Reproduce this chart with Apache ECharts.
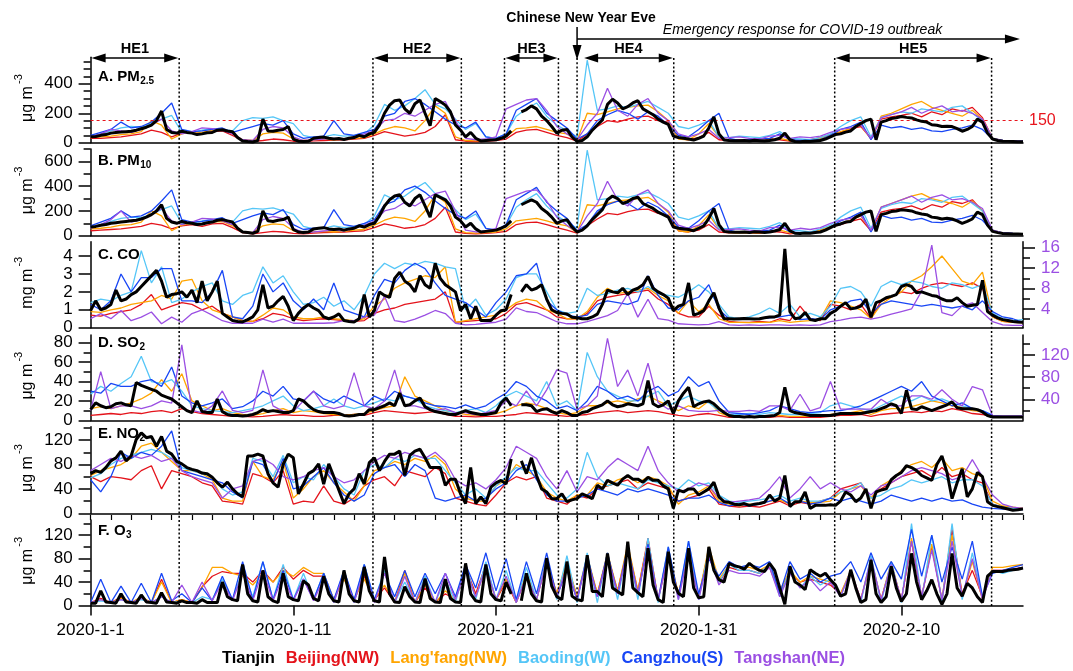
<!DOCTYPE html>
<html><head><meta charset="utf-8">
<script src="https://cdn.jsdelivr.net/npm/echarts@6/dist/echarts.min.js"></script>
<style>html,body{margin:0;padding:0;background:#fff}#c{width:1073px;height:671px}</style>
</head><body><div id="c"></div>
<script>
// ---------------- DATA (Tianjin: 6-hourly; other cities: 12-hourly; x = days since 2020-01-01) ----------------
const cities = ['Tianjin','Beijing(NW)',"Lang'fang(NW)",'Baoding(W)','Cangzhou(S)','Tangshan(NE)'];
const xMajor = [0,10,20,30,40];
const xMinor = [0,1,2,3,4,5,6,7,8,9,10,11,12,13,14,15,16,17,18,19,20,21,22,23,24,25,26,27,28,29,30,31,32,33,34,35,36,37,38,39,40,41,42,43,44,45,46];
const yLabA = [0,200,400], yTickA = [50,100,150,200,250,300,350,400,450,500,550];
const yLabB = [0,200,400,600], yTickB = [100,200,300,400,500,600,700];
const yLabC = [0,1,2,3,4];
const yLabCr = [4,8,12,16], yTickCr = [2,4,6,8,10,12,14,16];
const yLabD = [0,20,40,60,80], yTickD = [10,20,30,40,50,60,70,80];
const yLabDr = [40,80,120], yTickDr = [20,40,60,80,100,120,140];
const yLabE = [0,40,80,120], yTickE = [20,40,60,80,100,120,140];
const yLabF = [0,40,80,120], yTickF = [20,40,60,80,100,120,140];
const eventLines = [4.37,13.93,18.29,20.42,23.08,24.0,28.77,36.71,44.45];
const heSpans = [['HE1',0,4.37],['HE2',13.93,18.29],['HE3',20.42,23.08],['HE4',24.3,28.77],['HE5',36.71,44.45]];
const cnyDay = 24.0, emergencyEnd = 45.85, pm25Limit = 150;

// A. PM2.5
const pm25_TJ = [40,42,50,55,65,70,72,75,78,85,95,105,120,150,215,90,70,65,78,70,
65,55,60,68,70,85,88,80,75,35,12,8,5,15,160,80,78,85,90,110,
25,10,8,10,30,35,38,30,25,28,22,30,35,50,40,60,70,120,200,255,
285,290,230,200,265,290,200,115,300,280,255,210,120,85,40,70,30,12,15,18,
20,30,45,80,null,210,225,250,230,180,150,110,65,85,90,40,8,15,40,85,
120,155,260,295,270,230,245,270,285,230,210,190,160,140,125,45,35,30,25,18,
30,45,100,175,60,18,15,14,14,15,12,16,14,12,15,20,30,65,20,8,
7,10,8,12,15,25,40,55,60,72,80,110,130,150,160,20,140,150,165,170,
178,172,168,155,145,140,122,118,110,112,110,95,78,90,110,160,140,65,25,15,
10,9,8,7,7];
const pm25_BJ = [30,30,35,40,50,60,85,70,40,65, 70,60,75,80,50,15,8,15,25,20, 10,8,12,15,18,20,25,30,50,75, 60,45,55,70,110,190,20,10,8,10, 15,25,70,85,90,70,50,35,10,60, 110,150,140,160,175,180,150,140,30,20, 35,70,20,15,20,15,12,25,20,10, 15,20,35,55,70,95,110,30,160,175, 185,200,175,210,190,230,215,240,170,30, 12,10,8];
const pm25_LF = [35,40,45,55,60,75,150,120,25,60, 75,70,85,90,60,20,15,60,70,65, 25,15,20,25,20,25,30,35,60,90, 110,100,80,150,250,200,40,15,12,15, 20,40,95,100,110,90,70,60,15,200, 190,210,230,240,250,255,210,150,25,20, 60,130,40,15,12,15,14,20,30,15, 12,15,30,55,75,95,120,25,180,200, 230,260,280,240,220,200,180,220,160,30, 15,12,10];
const pm25_BD = [45,60,80,100,110,105,130,160,185,70, 70,85,95,90,80,150,170,165,175,150, 130,50,35,40,55,45,50,60,120,260, 220,250,300,360,260,230,160,90,130,40, 30,60,180,230,270,180,120,80,40,560, 220,230,250,240,260,280,240,200,110,95, 120,150,40,35,45,40,35,50,75,30, 25,20,35,60,110,150,175,40,170,190, 210,200,230,220,210,240,250,200,150,30, 15,12,10];
const pm25_CZ = [50,70,90,140,100,110,140,200,270,90, 75,80,90,100,70,90,110,130,120,150, 60,30,40,45,150,60,50,70,90,180, 200,280,300,260,210,160,120,100,140,40, 30,60,220,260,300,200,150,100,25,60, 150,190,220,200,160,210,180,120,50,40, 90,150,200,30,15,20,25,30,60,20, 15,15,20,50,90,110,140,20,120,100, 110,90,100,80,75,90,100,120,90,25, 15,12,10];
const pm25_TS = [40,60,90,80,70,90,120,160,80,60, 75,100,95,85,60,20,15,90,110,100, 40,15,20,25,30,25,40,60,80,150, 160,200,180,220,260,280,150,30,20,25, 40,230,260,290,300,220,110,60,20,120, 200,370,220,180,260,300,200,150,60,40, 60,90,30,35,40,30,25,45,50,30, 40,35,45,70,90,100,120,30,170,190, 210,240,200,230,250,210,220,200,160,30, 15,12,10];

// B. PM10
const pm10_TJ = [70,75,85,90,100,105,110,115,120,125,135,150,170,200,250,140,110,100,115,105,
100,90,95,105,110,125,130,120,110,60,30,25,20,35,200,120,115,125,130,150,
50,30,25,30,55,60,65,55,50,55,45,55,60,80,70,90,100,160,240,290,
320,330,270,240,300,330,240,150,330,310,290,240,150,120,70,100,55,30,35,40,
45,60,80,120,null,250,270,290,270,220,190,150,100,120,130,70,30,45,80,130,
170,210,290,320,300,260,275,300,310,260,240,220,190,170,150,70,60,55,50,40,
60,80,140,220,90,35,30,28,28,30,25,32,30,26,30,38,50,100,40,20,
18,22,20,25,30,45,65,85,95,110,115,150,170,190,200,35,170,180,195,200,
210,205,200,185,175,170,150,145,135,140,135,120,100,115,135,190,170,85,35,25,
18,16,14,13,12];
const pm10_BJ = [40,45,50,55,65,75,100,85,55,80, 90,75,95,100,65,25,15,25,35,30, 18,15,20,25,28,30,35,40,65,95, 80,60,70,90,140,230,30,18,15,18, 25,35,90,105,110,90,65,45,20,80, 135,180,170,195,210,215,180,165,40,30, 45,90,30,22,28,22,18,35,30,15, 22,28,45,70,90,115,135,40,190,210, 220,240,210,250,230,275,260,290,200,40, 18,15,12];
const pm10_LF = [55,60,70,85,90,110,200,160,40,85, 100,95,110,115,80,30,25,80,95,90, 40,25,30,35,30,35,45,50,85,125, 150,140,115,200,330,270,55,25,20,25, 30,55,120,130,140,120,95,80,25,250, 240,260,280,290,300,310,260,190,40,30, 80,170,55,25,20,25,22,30,45,25, 20,25,45,75,100,125,160,40,230,260, 290,320,340,300,280,260,230,280,200,45, 22,18,15];
const pm10_BD = [70,90,115,140,150,145,175,210,240,100, 100,120,130,125,110,200,220,215,225,200, 175,75,55,60,80,65,75,90,160,330, 290,320,380,430,340,300,210,130,175,60, 45,85,230,290,340,240,160,110,60,690, 290,300,320,310,330,350,310,260,150,130, 160,200,60,55,65,60,55,75,105,45, 40,30,55,85,150,200,230,60,220,250, 270,260,300,290,270,310,320,260,200,45, 22,18,15];
const pm10_CZ = [80,110,140,200,150,160,200,280,370,130, 110,115,130,145,100,130,160,185,170,210, 90,50,60,65,210,90,75,100,130,250, 280,370,400,350,280,220,170,140,200,60, 45,90,290,340,390,270,200,140,40,90, 200,250,280,260,210,270,230,160,70,60, 120,200,260,45,25,30,38,45,85,30, 25,25,30,70,120,150,190,30,165,140, 150,125,140,110,105,125,140,165,125,35, 22,18,15];
const pm10_TS = [60,90,130,200,110,130,170,220,120,90, 110,140,135,120,90,30,25,130,155,140, 60,25,30,38,45,38,60,85,115,200, 220,270,240,290,340,360,200,45,30,38, 60,300,330,360,370,280,150,85,30,160, 260,440,290,240,330,370,260,200,85,60, 85,125,45,50,55,45,38,65,70,45, 60,50,65,100,125,140,165,45,230,260, 290,320,270,310,330,290,300,270,220,45, 22,18,15];

// C. CO (mg m-3; Tangshan on right axis)
const co_TJ = [0.95,1.5,1.0,1.1,1.3,2.1,1.5,1.6,1.85,2.0,2.3,2.6,2.9,3.2,2.6,1.7,1.85,1.9,2.0,1.7,
2.1,1.4,2.6,1.5,2.0,2.6,0.8,0.6,0.4,0.35,0.32,0.45,0.6,1.0,2.4,1.1,1.2,1.5,1.75,1.2,
0.4,0.8,1.1,1.3,1.1,0.95,0.6,0.5,0.6,0.77,0.4,0.35,0.32,0.5,1.85,0.6,0.95,2.0,1.8,1.7,
2.75,3.1,2.6,2.4,2.0,2.9,2.4,2.2,3.6,2.75,2.4,2.2,2.0,0.95,1.3,0.5,1.2,0.4,0.4,0.4,
0.7,0.95,1.0,1.85,null,2.0,2.4,2.1,2.2,2.4,1.6,1.0,0.85,0.8,0.76,0.58,0.55,0.5,0.5,0.6,
0.76,1.3,2.1,2.0,1.95,2.2,1.85,2.1,2.2,2.4,2.85,2.2,2.0,1.85,1.65,0.95,1.2,1.3,2.5,0.7,
0.8,0.95,1.5,1.95,1.1,0.5,0.5,0.48,0.5,0.52,0.5,0.48,0.5,0.55,0.6,0.6,0.7,4.4,0.9,0.5,
0.55,0.85,0.45,0.4,0.5,0.5,0.8,0.95,1.2,1.4,1.05,1.1,1.2,1.6,0.58,1.4,1.5,1.67,1.75,1.85,
2.3,2.4,2.3,1.95,2.0,1.9,1.8,1.75,1.6,1.5,1.5,1.67,1.4,1.2,1.25,1.3,2.65,0.9,0.7,0.55,
0.45,0.4,0.35,0.32,0.3];
const co_BJ = [0.7,0.65,0.8,0.9,1.0,1.3,1.85,1.0,1.2,1.4, 1.3,1.0,1.2,0.8,0.6,0.4,0.35,0.5,0.8,0.7, 0.5,0.4,0.45,0.5,0.45,0.4,0.35,0.4,0.8,1.0, 1.1,1.3,1.4,1.5,1.6,2.0,0.3,0.35,0.4,0.45, 0.5,0.8,1.3,1.4,1.2,1.0,0.6,0.5,0.5,0.8, 1.5,1.7,1.8,1.9,2.0,2.1,1.6,1.3,0.8,0.6, 0.6,1.2,0.7,0.35,0.3,0.3,0.35,0.3,0.5,0.4, 1.2,0.5,0.4,1.3,1.2,1.0,1.3,0.5,1.5,1.7, 2.0,1.9,2.2,2.4,2.5,2.4,2.3,2.5,2.2,0.6, 0.35,0.3,0.28];
const co_LF = [0.9,0.85,1.0,1.1,1.3,1.4,1.5,1.8,1.6,2.6, 2.7,1.5,1.0,0.8,0.6,0.4,0.35,0.7,1.1,1.0, 0.6,0.5,0.5,0.6,0.5,0.45,0.4,0.5,1.2,1.6, 2.2,2.5,2.7,2.9,2.8,3.4,0.3,0.4,0.5,0.6, 0.7,1.0,1.4,1.6,1.5,1.0,0.8,0.5,0.5,0.9, 1.7,2.2,1.9,2.0,2.1,2.2,1.8,1.5,0.8,1.5, 0.9,1.3,0.5,0.3,0.3,0.28,0.3,0.3,0.4,0.3, 0.35,0.4,0.5,1.5,1.4,1.2,1.0,0.5,1.3,1.7, 2.0,2.6,2.9,3.4,4.0,3.3,2.6,2.4,3.1,0.6, 0.35,0.3,0.28];
const co_BD = [1.4,1.6,1.5,1.8,2.0,4.3,2.5,3.4,1.4,1.6, 2.0,2.3,2.5,1.5,1.3,1.8,2.0,3.4,2.5,2.9, 2.0,1.3,1.4,1.7,1.2,1.5,1.0,1.8,3.0,3.6, 3.3,3.6,3.5,3.7,3.6,3.4,3.3,1.0,1.6,0.7, 1.0,1.6,2.8,3.0,3.0,2.0,1.0,0.8,0.9,2.2, 1.8,1.9,2.1,2.2,2.0,2.3,1.9,1.8,1.7,2.0, 2.4,2.0,1.3,0.6,0.5,0.6,0.8,1.1,0.8,1.3, 0.6,0.8,0.6,1.2,2.2,2.3,2.0,1.2,2.3,2.6, 2.4,2.6,2.5,2.3,2.2,2.5,2.4,2.2,2.4,0.8, 0.5,0.4,0.45];
const co_CZ = [1.3,1.0,1.5,3.0,2.0,2.8,2.8,3.3,3.3,1.5, 1.5,1.4,2.0,3.2,0.6,0.5,1.2,3.0,2.0,2.5, 1.5,1.0,1.6,1.0,2.5,1.0,0.8,0.6,1.8,2.7, 2.5,3.2,3.6,3.3,2.5,1.8,1.6,1.4,1.0,0.6, 1.4,2.0,2.9,3.0,3.6,1.5,1.0,0.7,0.6,0.7, 1.3,1.5,1.4,1.3,1.5,2.9,1.8,1.1,1.0,1.5, 1.7,2.4,1.0,0.5,0.45,0.5,0.5,0.55,0.6,0.7, 0.45,0.5,0.45,1.0,1.2,1.5,1.6,0.8,1.3,1.5, 1.4,1.3,1.2,1.3,1.2,1.1,1.2,1.0,1.5,0.9, 0.6,0.5,0.3];
const co_TS = [2.1,3.1,2.1,3.7,1.7,2.4,3.4,1.1,2.4,1.4, 3.1,3.8,2.8,1.7,1.2,1.2,1.2,2.0,1.4,2.0, 1.2,1.2,1.2,1.2,1.3,1.7,1.7,2.4,2.8,6.5, 1.7,1.4,2.0,2.8,3.7,3.1,1.2,0.9,1.0,1.2, 1.4,2.0,4.2,3.5,3.3,2.4,1.5,1.1,1.1,1.5, 2.1,2.7,3.7,7.0,2.4,5.9,2.1,1.8,1.1,1.0, 0.9,1.0,1.5,0.9,0.8,0.9,0.8,0.9,0.9,0.8, 0.9,0.8,0.9,1.5,1.8,2.2,2.4,2.0,2.4,3.0, 3.5,4.0,7.5,16.5,3.3,2.7,4.6,5.2,3.3,1.5, 0.9,0.8,0.8];

// D. SO2 (Tangshan on right axis)
const so2_TJ = [11,18,15,13,14,17,18,16,15,39,36,34,32,30,26,24,22,18,14,10,
8,20,9,8,8,22,9,6,5,5,4.5,5,6,8,11,9,10,9,8,8,
10,22,20,15,11,9,8,8,8,7,5,4.5,5,6,6,11,11,13,15,18,
15,28,15,16,20,23,14,11,9,8,7,6,6,8,10,8,7,6,6,7,
8,18,23,15,null,16,16,15,9,11,12,9,7,10,8,5,5,8,9,12,
14,16,20,16,14,15,17,16,15,17,41,17,14,16,20,7,20,28,34,14,
17,19,20,17,12,8,5,4,4,3.5,4,3.5,4,4,4.5,5,8,34,10,8,
7,6,5,5,5,5,5,6,7,7,7,7,7,8,9,10,12,14,17,15,
7,31,12,11,14,12,10,12,14,16,19,13,12,12,12,11,8.6,5,3.4,3.4,
3.4,3.4,3.4,3.4,3.4];
const so2_BJ = [5,6,7,6,8,7,9,10,8,12, 9,7,6,5,4,4,3.5,4,5,6, 5,5,4,4,5,5,6,5,8,10, 9,8,7,8,9,6,4,4,3.5,4, 4,5,6,8,7,6,5,4,5,6, 8,9,10,8,9,10,9,7,5,4, 6,7,5,3,3,3,3,3,4,3, 3,3,3,4,5,5,6,4,6,7, 8,9,8,10,9,12,10,7,6,3, 3,3,3];
const so2_LF = [12,14,12,15,18,22,28,42,30,48, 20,15,10,12,8,6,5,7,10,12, 8,10,9,7,6,5,6,7,10,13, 15,45,25,20,15,10,8,6,5,6, 7,10,15,18,16,12,8,6,8,15, 15,18,20,18,22,25,20,15,10,15, 12,20,8,4,4,3,4,4,5,4, 4,4,4,6,7,8,10,6,10,12, 12,14,17,20,18,15,13,10,9,3, 3,3,3];
const so2_BD = [27,35,30,38,45,66,40,38,42,30, 15,12,10,9,8,10,12,15,20,25, 15,10,12,15,22,15,12,15,18,22, 20,25,22,15,12,10,8,10,12,8, 15,25,30,25,20,40,15,20,10,70, 45,30,25,20,20,25,30,15,20,25, 20,18,10,6,6,7,6,8,7,6, 6,7,8,15,18,15,12,10,15,20, 25,20,25,20,22,18,15,12,10,5, 4,4,4];
const so2_CZ = [30,28,38,35,35,40,42,35,55,25, 18,15,18,22,12,14,20,30,25,35, 22,20,30,22,18,25,20,15,25,20, 30,25,22,18,15,14,12,16,12,15, 22,28,40,35,25,20,12,15,10,20, 35,30,22,25,20,30,35,25,30,45, 35,40,20,8,7,6,8,10,15,12, 9,8,9,10,10,12,15,20,25,30, 35,30,40,25,20,15,18,12,10,5, 4,4,4];
const so2_TS = [20,90,23,28,28,23,28,37,33,138, 20,16,28,55,20,16,20,93,28,18, 18,37,55,28,23,28,88,28,23,37, 93,28,28,23,20,23,16,16,12,16, 20,37,28,55,28,57,93,87,22,28, 46,150,63,93,46,105,34,22,28,20, 18,18,20,18,18,20,18,28,28,20, 49,19,25,72,22,22,22,22,40,28, 28,46,46,40,57,40,28,63,57,10, 10,10,10];

// E. NO2
const no2_TJ = [65,70,67,75,86,91,102,86,94,121,132,124,126,110,126,102,97,85,81,75,
72,70,66,65,59,50,43,51,40,32,27,94,94,97,94,65,50,43,80,97,
91,32,48,65,70,81,48,81,60,38,16,32,40,65,48,83,91,70,85,97,
97,102,62,95,102,105,91,75,75,75,46,56,56,32,16,75,16,27,16,43,
50,54,48,89,null,86,65,91,62,40,35,24,24,32,19,22,24,32,28,24,
46,40,54,50,46,56,62,56,56,51,59,54,54,45,40,8,38,35,40,40,
30,35,40,51,27,19,18,15,14,16,13,15,16,18,30,20,25,62,11,19,
19,35,8,13,13,13,14,13,20,35,30,19,25,40,8,35,38,40,55,62,
67,78,75,70,62,58,54,80,94,67,24,50,73,27,40,67,60,19,13,11,
9,7,5,6,7];
const no2_BJ = [60,52,60,58,55,70,78,40,70,65, 60,50,45,20,18,15,65,60,50,70, 15,20,18,45,20,15,25,45,55,60, 45,70,65,60,75,65,25,20,15,12, 30,50,60,55,60,25,20,15,30,25, 40,45,50,55,40,50,45,40,20,25, 30,40,15,12,10,12,10,15,20,12, 18,15,20,25,40,45,50,25,40,50, 60,65,70,60,75,60,65,55,50,15, 10,8,7];
const no2_LF = [62,70,75,80,90,110,115,100,85,70, 70,65,55,25,20,20,85,60,55,85, 25,40,60,70,50,35,20,45,70,75, 85,80,90,85,95,80,40,25,20,20, 45,55,80,70,60,35,25,20,30,30, 50,45,55,60,50,60,55,45,15,30, 35,45,20,15,12,15,15,20,22,15, 20,18,18,20,35,40,45,25,45,55, 70,80,85,75,90,70,75,65,60,20, 12,10,8];
const no2_BD = [58,65,80,90,95,100,105,100,90,75, 70,65,60,40,30,35,90,85,60,95, 50,60,55,80,60,40,30,70,80,75, 90,85,95,90,90,70,50,30,40,25, 45,60,75,70,70,50,30,25,40,100, 60,45,50,45,40,55,50,45,40,55, 45,50,30,20,18,20,22,25,30,20, 25,20,20,25,35,40,50,25,30,40, 45,55,50,55,60,50,55,55,45,15, 10,8,7];
const no2_CZ = [55,35,60,100,90,100,95,110,135,70, 65,60,55,50,35,25,85,80,50,90, 40,45,60,75,50,30,20,30,65,75, 80,60,80,70,25,20,25,30,20,25, 40,50,70,80,55,30,20,20,25,30, 40,35,30,40,35,40,35,30,20,25, 25,30,18,12,15,12,15,20,25,15, 20,15,18,25,20,25,20,15,20,30, 25,20,25,20,25,20,22,15,10,8, 7,6,6];
const no2_TS = [70,80,90,85,95,90,95,85,90,70, 60,55,50,25,40,45,85,90,80,60, 55,60,70,75,60,50,55,70,85,95, 90,100,95,90,100,85,55,45,50,40, 55,75,110,100,90,60,40,70,35,60, 55,75,90,80,70,110,70,50,35,40, 50,45,25,18,20,22,25,40,60,25, 40,60,40,50,40,35,45,30,45,50, 60,70,75,70,65,55,60,88,60,30, 15,10,8];

// F. O3
const o3_TJ = [4,4,25,6,5,4,20,6,5,4,18,6,5,4,22,6,5,4,8,5,
5,4,10,5,5,5,40,15,10,8,70,20,8,6,60,15,8,5,55,15,
10,8,42,35,12,8,50,20,8,6,60,20,8,6,66,25,8,6,83,20,
6,5,32,15,6,5,46,12,6,5,45,12,6,5,72,20,8,6,70,20,
10,8,40,20,null,8,55,20,8,6,81,33,15,10,75,16,10,8,86,24,
24,15,89,30,24,18,109,30,22,15,98,35,10,5,92,40,21,15,98,30,
13,15,100,60,44,40,72,68,66,62,72,65,60,58,72,60,30,2,67,40,
35,27,61,55,50,55,44,35,16,20,61,30,5,10,78,20,5,15,67,30,
7,20,89,40,10,25,44,20,2,20,89,30,16,38,30,15,5,50,58,58,
58,60,61,62,64];
const o3_BJ = [5,12,5,14,5,12,5,45,5,10, 5,32,50,58,55,55,40,60,40,65, 45,60,50,50,10,50,10,50,10,30, 5,60,5,30,5,20,10,65,20,70, 10,40,5,50,10,75,20,70,15,80, 20,85,25,100,25,115,10,85,20,90, 15,95,40,65,60,60,55,65,20,55, 40,45,40,35,20,55,10,75,10,70, 10,110,15,100,10,130,20,60,15,60, 60,62,65];
const o3_LF = [5,10,5,12,5,15,5,40,5,10, 5,30,65,65,55,50,35,55,40,60, 50,65,55,55,10,45,10,45,10,35, 5,55,5,35,5,25,10,60,15,65, 10,45,5,55,10,80,20,75,15,85, 20,90,25,105,25,110,10,95,20,95, 15,100,45,70,65,65,60,70,25,60, 40,50,45,40,20,60,10,80,10,75, 8,115,12,105,8,120,15,75,10,65, 65,68,70];
const o3_BD = [5,8,5,10,5,10,5,15,5,8, 5,15,10,45,10,60,15,75,10,70, 10,55,10,55,5,60,5,70,10,60, 5,40,5,50,5,45,5,70,10,75, 10,60,5,65,10,80,10,85,5,90, 5,90,10,100,10,115,5,100,10,110, 10,95,40,70,60,60,55,70,15,60, 30,50,35,45,15,60,5,85,5,75, 5,140,10,120,5,140,10,90,15,60, 55,60,65];
const o3_CZ = [5,45,5,33,5,38,5,55,8,20, 5,30,8,50,10,75,10,75,10,60, 10,45,10,55,10,60,10,70,10,55, 15,60,15,55,20,55,15,70,30,90, 25,80,10,75,20,90,15,60,10,85, 15,90,20,100,20,105,10,100,15,110, 20,80,50,75,65,70,65,75,20,75, 45,55,40,50,55,75,40,90,45,75, 45,130,50,120,40,100,45,110,15,55, 60,65,70];
const o3_TS = [5,10,5,10,5,12,5,15,5,35, 5,40,8,40,8,55,8,60,8,50, 8,45,8,45,5,55,5,60,5,55, 5,50,5,45,5,55,10,60,15,65, 10,50,5,50,10,75,15,65,10,80, 15,85,20,95,20,100,10,85,10,90, 10,85,35,60,55,55,50,65,15,55, 30,45,25,40,15,60,10,80,10,70, 10,110,15,95,10,110,15,80,10,60, 60,62,65];

// ---------------- CHART ----------------
const FONT = '"Liberation Sans", Arial, sans-serif';
const colors = ['#000000','#e4131b','#ffa500','#55c6f7','#1846f5','#9b4fe3'];
const PURPLE = '#9b4fe3';
const GL = 90.6, GR = 1023;
const panels = [
  {top:57.3, bot:142.7, max:580, lab:yLabA, tk:yTickA, unit:'μg m', t1:'A. PM', t2:'2.5', toff:19.3, data:[pm25_TJ,pm25_BJ,pm25_LF,pm25_BD,pm25_CZ,pm25_TS]},
  {top:149, bot:235.7, max:700, lab:yLabB, tk:yTickB, unit:'μg m', t1:'B. PM', t2:'10', toff:12, data:[pm10_TJ,pm10_BJ,pm10_LF,pm10_BD,pm10_CZ,pm10_TS]},
  {top:241.7, bot:327.7, max:4.8, lab:yLabC, tk:[], unit:'mg m', t1:'C. CO', t2:'', toff:12.8, data:[co_TJ,co_BJ,co_LF,co_BD,co_CZ,co_TS], r:{min:0.33,max:17.17,lab:yLabCr,tk:yTickCr}},
  {top:335, bot:420.3, max:88, lab:yLabD, tk:yTickD, unit:'μg m', t1:'D. SO', t2:'2', toff:7.5, data:[so2_TJ,so2_BJ,so2_LF,so2_BD,so2_CZ,so2_TS], r:{min:2,max:156,lab:yLabDr,tk:yTickDr}},
  {top:426.7, bot:513.3, max:142, lab:yLabE, tk:yTickE, unit:'μg m', t1:'E. NO', t2:'2', toff:7.3, data:[no2_TJ,no2_BJ,no2_LF,no2_BD,no2_CZ,no2_TS]},
  {top:520, bot:605.5, max:146, lab:yLabF, tk:yTickF, unit:'μg m', t1:'F. O', t2:'3', toff:11, data:[o3_TJ,o3_BJ,o3_LF,o3_BD,o3_CZ,o3_TS]}
];
function fmtDate(v){ const d = new Date(2020,0,1+Math.round(v)); return d.getFullYear()+'-'+(d.getMonth()+1)+'-'+d.getDate(); }
function xy(arr, step){ return arr.map((v,i)=>[i*step, v]); }

const grids = panels.map(p=>({left:GL, width:GR-GL, top:p.top, height:p.bot-p.top}));
const xAxes = panels.map((p,i)=>({
  type:'value', gridIndex:i, min:0, max:46,
  axisLine:{show:true, onZero:false, lineStyle:{color:'#000', width:1.5}},
  axisTick:{show:i===5, length:10, customValues:xMajor, lineStyle:{color:'#000', width:1.5}},
  axisLabel:{show:i===5, customValues:xMajor, formatter:fmtDate, fontSize:17, color:'#000', margin:16, fontFamily:FONT},
  splitLine:{show:false}
}));
xAxes.push({type:'value', gridIndex:5, min:0, max:46, axisLine:{show:false, onZero:false},
  axisTick:{show:true, length:5, customValues:xMinor, lineStyle:{color:'#000', width:1.2}},
  axisLabel:{show:false}, splitLine:{show:false}});

function mkY(gi,pos,min,max,vals,len,major,labColor){
  return {type:'value', gridIndex:gi, position:pos, min:min, max:max,
    axisLine:{show:major, onZero:false, lineStyle:{color:'#000', width:1.5}},
    axisTick:{show:vals.length>0, length:len, customValues:vals, lineStyle:{color:'#000', width:1.5}},
    axisLabel:{show:major, customValues:vals, fontSize:17, color:labColor, margin:18, fontFamily:FONT},
    splitLine:{show:false}};
}
const yAxes = [], leftIdx = [], rightIdx = [];
panels.forEach((p,i)=>{
  leftIdx[i] = yAxes.length;
  yAxes.push(mkY(i,'left',0,p.max,p.lab,12,true,'#000'));
  yAxes.push(mkY(i,'left',0,p.max,p.tk,7,false,'#000'));
  if (p.r){
    rightIdx[i] = yAxes.length;
    yAxes.push(mkY(i,'right',p.r.min,p.r.max,p.r.lab,12,true,PURPLE));
    yAxes.push(mkY(i,'right',p.r.min,p.r.max,p.r.tk,7,false,PURPLE));
  }
});

const series = [];
const drawOrder = [1,2,3,4,5,0];
panels.forEach((p,i)=>{
  drawOrder.forEach(c=>{
    const isT = c===0;
    const s = {
      name:cities[c], type:'line', xAxisIndex:i,
      yAxisIndex:(c===5 && rightIdx[i]!=null) ? rightIdx[i] : leftIdx[i],
      data:xy(p.data[c], isT?0.25:0.5), showSymbol:false, symbol:'none', connectNulls:false,
      lineStyle:{color:colors[c], width:isT?3:1.3}, itemStyle:{color:colors[c]},
      z: isT?5:3, silent:true, animation:false
    };
    if (i===0 && isT){
      s.markLine = {silent:true, symbol:'none', animation:false,
        lineStyle:{color:'#e8141c', type:[3,3], width:1.2},
        label:{show:true, position:'end', formatter:String(pm25Limit), color:'#e8141c', fontSize:16, fontFamily:FONT, distance:6},
        data:[{yAxis:pm25Limit}]};
    }
    series.push(s);
  });
});

const chart = echarts.init(document.getElementById('c'), null, {renderer:'canvas', width:1073, height:671});
chart.setOption({
  animation:false, backgroundColor:'#fff',
  grid:grids, xAxis:xAxes, yAxis:yAxes, series:series,
  legend:{left:212, top:645, itemGap:6, itemWidth:0, itemHeight:0, icon:'rect', selectedMode:false,
    textStyle:{fontSize:16.5, fontWeight:'bold', fontFamily:FONT},
    data:cities.map((c,i)=>({name:c, textStyle:{color:colors[i]}}))}
});

// ---------------- annotations ----------------
const ctx = document.createElement('canvas').getContext('2d');
function tw(t, f){ ctx.font = f; return ctx.measureText(t).width; }
const X = d => chart.convertToPixel({xAxisIndex:0}, d);
const g = [];
const TOPY = 58, BOTY = 606;
function txt(x,y,text,opt){ return Object.assign({type:'text', x:x, y:y, z:200, silent:true,
  style:Object.assign({text:text, fill:'#000', fontFamily:FONT, fontSize:15, fontWeight:'bold', align:'center', verticalAlign:'middle', textAlign:'center', textVerticalAlign:'middle'}, opt||{})}); }
function line(x1,y1,x2,y2,st){ return {type:'line', z:150, silent:true, shape:{x1:x1,y1:y1,x2:x2,y2:y2}, style:Object.assign({stroke:'#000', lineWidth:1.5}, st||{})}; }
function tri(pts){ return {type:'polygon', z:150, silent:true, shape:{points:pts}, style:{fill:'#000'}}; }

eventLines.forEach(d=>{ const x = X(d); g.push(line(x,TOPY,x,BOTY,{lineDash:[2,2.2], lineWidth:1.5})); });
heSpans.forEach(h=>{
  const x1 = X(h[1]), x2 = X(h[2]), y = TOPY;
  g.push(line(x1+12,y,x2-12,y));
  g.push(tri([[x1+1,y],[x1+15,y-4.5],[x1+15,y+4.5]]));
  g.push(tri([[x2-1,y],[x2-15,y-4.5],[x2-15,y+4.5]]));
  g.push(txt((x1+x2)/2, 49, h[0], {fontSize:14.5}));
});
const xc = X(cnyDay), xe = X(emergencyEnd);
g.push(txt(xc+4, 18, 'Chinese New Year Eve', {fontSize:14}));
g.push(line(xc,27,xc,48));
g.push(tri([[xc,60],[xc-4.5,45],[xc+4.5,45]]));
g.push(line(xc,39,xe-12,39));
g.push(tri([[xe,39],[xe-15,34.5],[xe-15,43.5]]));
g.push(txt((xc+xe)/2+4, 30, 'Emergency response for COVID-19 outbreak', {fontSize:14, fontWeight:'normal', fontStyle:'italic'}));

panels.forEach(p=>{
  const cy = p.top + p.toff;
  const f1 = 'bold 15px "Liberation Sans"';
  g.push(txt(GL+7.5, cy, p.t1, {align:'left', textAlign:'left'}));
  if (p.t2) g.push(txt(GL+7.5+tw(p.t1,f1)+0.5, cy+4.5, p.t2, {align:'left', textAlign:'left', fontSize:10}));
  const mid = (p.top+p.bot)/2 + 4;
  const w = tw(p.unit, '16px "Liberation Sans"');
  g.push(Object.assign(txt(28, mid, p.unit, {fontSize:16, fontWeight:'normal'}), {rotation:Math.PI/2}));
  g.push(Object.assign(txt(19, mid - w/2 - 7, '-3', {fontSize:11, fontWeight:'normal'}), {rotation:Math.PI/2}));
});
chart.setOption({graphic:{elements:g}});
</script>
</body></html>
